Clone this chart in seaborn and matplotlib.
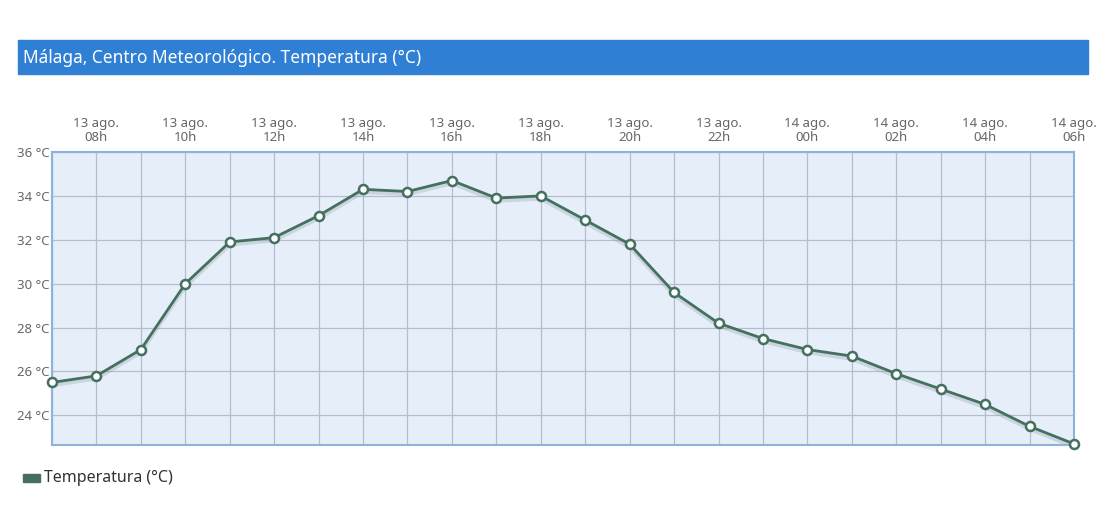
import pandas as pd
import matplotlib.pyplot as plt
import matplotlib.patches as mpatches
import seaborn as sns

hours = ["07h", "08h", "09h", "10h", "11h", "12h", "13h", "14h", "15h", "16h", "17h", "18h",
         "19h", "20h", "21h", "22h", "23h", "00h", "01h", "02h", "03h", "04h", "05h", "06h"]
days = ["13 ago."] * 17 + ["14 ago."] * 7
temps = [25.5, 25.8, 27.0, 30.0, 31.9, 32.1, 33.1, 34.3, 34.2, 34.7, 33.9, 34.0,
         32.9, 31.8, 29.6, 28.2, 27.5, 27.0, 26.7, 25.9, 25.2, 24.5, 23.5, 22.7]
y_ticks = [24, 26, 28, 30, 32, 34, 36]

df = pd.DataFrame({"idx": range(len(temps)), "temp": temps})

sns.set_style("white")
plt.rcParams['font.family'] = ['Noto Sans', 'DejaVu Sans']

line_col = "#44705f"
grid_col = "#b4bccd"
frame_col = "#8fb2dc"
text_col = "#666666"

fig = plt.figure(figsize=(11, 5.25), dpi=100)
ax = fig.add_axes([52 / 1100, 1 - 445 / 525, (1074 - 52) / 1100, (445 - 152) / 525])
ax.set_facecolor("#e6eff9")

# faint shadow under the line
ax.plot(df["idx"], df["temp"] - 0.12, color="#9aa6b0", lw=3, alpha=0.35, zorder=2)
sns.lineplot(data=df, x="idx", y="temp", ax=ax, color=line_col, lw=2,
             marker="o", markersize=6.5, markerfacecolor="white",
             markeredgecolor=line_col, markeredgewidth=1.8, zorder=3, clip_on=False)

ax.set_xlim(0, len(temps) - 1)
ax.set_ylim(22.65, 36)
ax.set_xticks(range(len(temps)))
ax.set_xticklabels([f"{d}\n{h}" if i % 2 == 1 else "" for i, (d, h) in enumerate(zip(days, hours))])
ax.set_yticks(y_ticks)
ax.set_yticklabels([f"{t} °C" for t in y_ticks])
ax.xaxis.tick_top()
ax.tick_params(axis="x", length=0, pad=6, labelsize=9.5, labelcolor=text_col)
ax.tick_params(axis="y", length=0, pad=2, labelsize=9.5, labelcolor=text_col)
for lbl in ax.get_xticklabels():
    lbl.set_linespacing(1.1)
ax.grid(True, color=grid_col, lw=0.9)
ax.set_axisbelow(True)
ax.set_xlabel("")
ax.set_ylabel("")
for s in ax.spines.values():
    s.set_color(frame_col)
    s.set_linewidth(1.5)

# title bar
fig.patches.append(mpatches.Rectangle((18 / 1100, 1 - 74 / 525), (1088 - 18) / 1100, 34 / 525,
                                      transform=fig.transFigure, color="#2f7fd5", zorder=0))
fig.text(23 / 1100, 1 - 58 / 525, "Málaga, Centro Meteorológico. Temperatura (°C)",
         color="white", fontsize=12.5, va="center", ha="left")

# legend
fig.patches.append(mpatches.Rectangle((23 / 1100, 1 - 482 / 525), 17 / 1100, 8 / 525,
                                      transform=fig.transFigure, color=line_col))
fig.text(44 / 1100, 1 - 478 / 525, "Temperatura (°C)", color="#333333", fontsize=11.5,
         va="center", ha="left")

fig.savefig("out.png", dpi=100, facecolor="white")
